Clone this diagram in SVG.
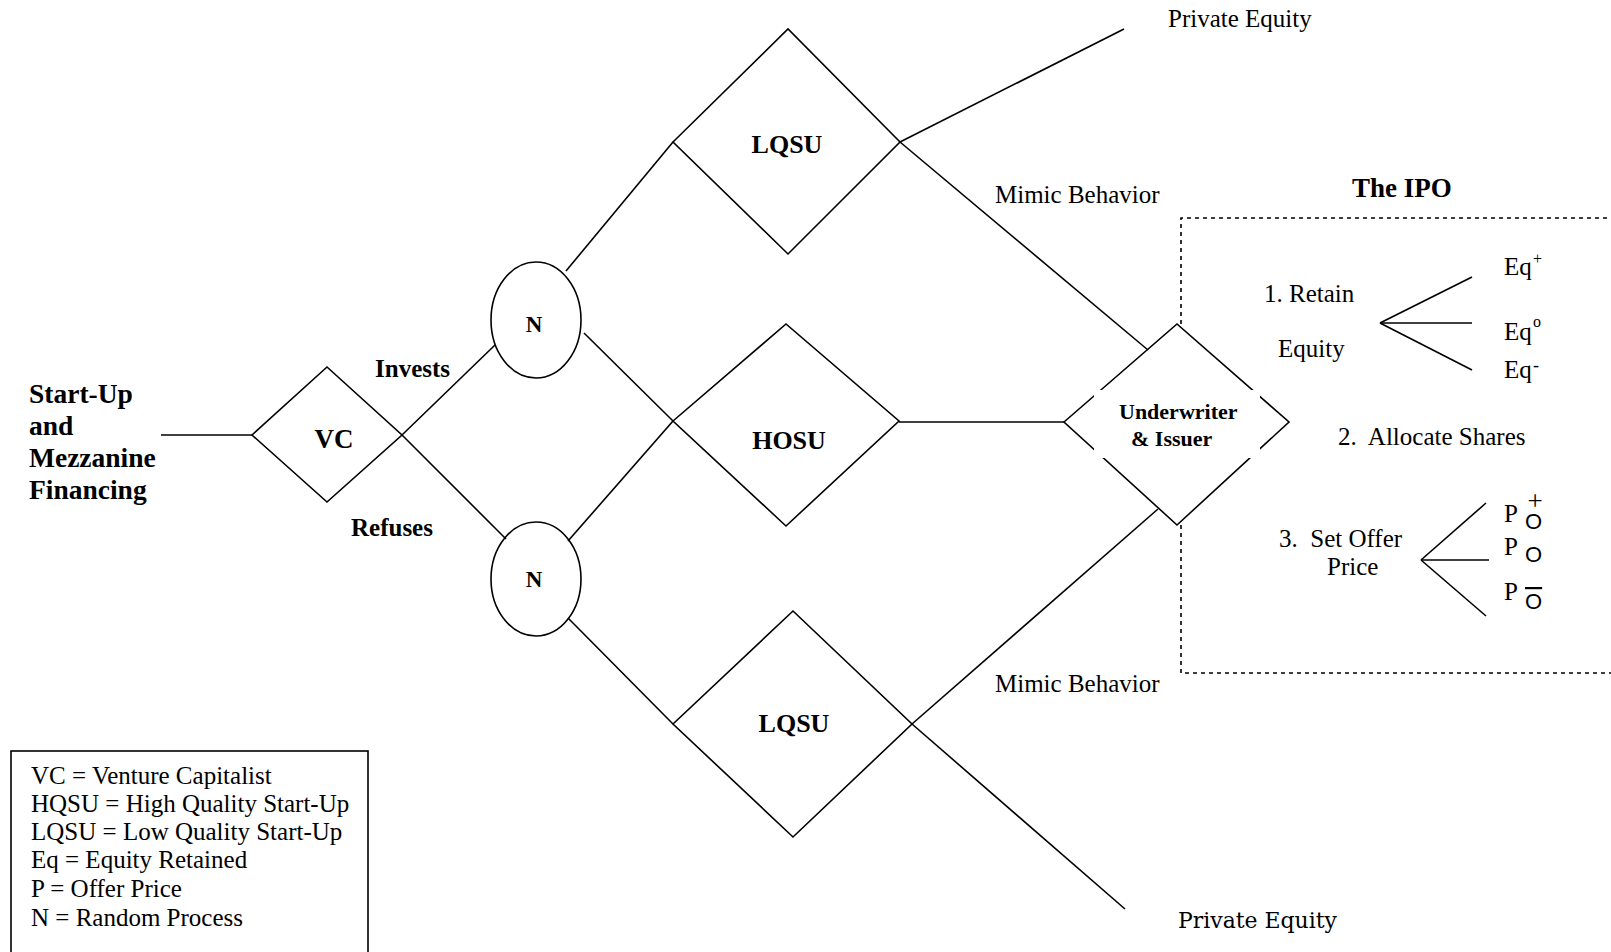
<svg xmlns="http://www.w3.org/2000/svg" width="1611" height="952" viewBox="0 0 1611 952">
<style>
.ln{stroke:#000;stroke-width:1.6;fill:none}
.nd{stroke:#000;stroke-width:1.6;fill:#fff}
.dot{stroke:#000;stroke-width:1.6;fill:none;stroke-dasharray:4 4}
.t{font-family:"Liberation Serif","Times New Roman",serif;font-size:25px;fill:#000}
.b{font-family:"Liberation Serif","Times New Roman",serif;font-weight:bold;fill:#000}
.s{font-family:"Liberation Sans",Arial,sans-serif;fill:#000}
</style>
<rect width="1611" height="952" fill="#fff"/>
<g id="connectors">
<line class="ln" x1="161" y1="435" x2="252" y2="435"/>
<line class="ln" x1="402" y1="435" x2="495" y2="345"/>
<line class="ln" x1="402" y1="435" x2="506" y2="539"/>
<line class="ln" x1="566" y1="271" x2="673" y2="142"/>
<line class="ln" x1="584" y1="333" x2="673" y2="421"/>
<line class="ln" x1="568" y1="541" x2="673" y2="421"/>
<line class="ln" x1="568" y1="618" x2="673" y2="724"/>
<line class="ln" x1="900" y1="142" x2="1124" y2="29"/>
<line class="ln" x1="900" y1="142" x2="1148" y2="350"/>
<line class="ln" x1="899" y1="422" x2="1064" y2="422"/>
<line class="ln" x1="912" y1="724" x2="1158" y2="509"/>
<line class="ln" x1="912" y1="724" x2="1125" y2="909"/>
<path class="dot" d="M1181,324 V218 H1611"/>
<path class="dot" d="M1181,525 V673 H1611"/>
<line class="ln" x1="1380" y1="323" x2="1472" y2="277"/>
<line class="ln" x1="1380" y1="323" x2="1472" y2="323"/>
<line class="ln" x1="1380" y1="323" x2="1472" y2="370"/>
<line class="ln" x1="1421" y1="560" x2="1486" y2="503"/>
<line class="ln" x1="1421" y1="560" x2="1489" y2="560"/>
<line class="ln" x1="1421" y1="560" x2="1486" y2="616"/>
</g>
<g id="start">
<text class="b" font-size="27.5" x="29" y="403">Start-Up</text>
<text class="b" font-size="27.5" x="29" y="435">and</text>
<text class="b" font-size="27.5" x="29" y="467">Mezzanine</text>
<text class="b" font-size="27.5" x="29" y="499">Financing</text>
</g>
<g id="vc">
<polygon class="nd" points="252,435 327,367 402,435 327,502"/>
<text class="b" font-size="27" x="334" y="448" text-anchor="middle">VC</text>
</g>
<g id="labels-vc">
<text class="b" font-size="25" x="375" y="377">Invests</text>
<text class="b" font-size="25" x="351" y="536">Refuses</text>
</g>
<g id="n1">
<ellipse class="ln" cx="536" cy="320" rx="45" ry="58"/>
<text class="b" font-size="23" x="534" y="332" text-anchor="middle">N</text>
</g>
<g id="n2">
<ellipse class="ln" cx="536" cy="579" rx="45" ry="57"/>
<text class="b" font-size="23" x="534" y="587" text-anchor="middle">N</text>
</g>
<g id="lqsu-top">
<polygon class="ln" points="673,142 788,29 900,142 788,254"/>
<text class="b" font-size="26" x="787" y="153" text-anchor="middle">LQSU</text>
</g>
<g id="hqsu">
<polygon class="ln" points="673,421 786,324 899,421 786,526"/>
<text class="b" font-size="26" x="789" y="449" text-anchor="middle">HOSU</text>
</g>
<g id="lqsu-bottom">
<polygon class="ln" points="673,724 793,611 912,724 793,837"/>
<text class="b" font-size="26" x="794" y="732" text-anchor="middle">LQSU</text>
</g>
<g id="underwriter">
<polygon class="ln" points="1064,422 1177,324 1289,422 1177,525"/>
<rect x="1094" y="390" width="166" height="68" fill="#fff"/>
<text class="b" font-size="22" x="1119" y="419">Underwriter</text>
<text class="b" font-size="22" x="1131" y="446">&amp; Issuer</text>
</g>
<g id="outcomes">
<text class="t" x="1168" y="27">Private Equity</text>
<text class="t" x="995" y="203">Mimic Behavior</text>
<text class="t" x="995" y="692">Mimic Behavior</text>
<text x="1178" y="928" font-family="'DejaVu Serif',serif" font-size="22" textLength="159" lengthAdjust="spacingAndGlyphs" fill="#000">Private Equity</text>
</g>
<g id="ipo">
<text class="b" font-size="27" x="1352" y="197">The IPO</text>
<text class="t" x="1264" y="302">1. Retain</text>
<text class="t" x="1278" y="357">Equity</text>
<text class="t" x="1504" y="275">Eq</text>
<text class="t" x="1533" y="264" style="font-size:16px">+</text>
<text class="t" x="1504" y="340">Eq</text>
<text class="t" x="1533" y="327" style="font-size:16px">o</text>
<text class="t" x="1504" y="378">Eq</text>
<text class="t" x="1533" y="371" style="font-size:18px">-</text>
<text class="t" x="1338" y="445" xml:space="preserve">2.  Allocate Shares</text>
<text class="t" x="1279" y="547" xml:space="preserve">3.  Set Offer</text>
<text class="t" x="1327" y="575">Price</text>
<text class="t" x="1504" y="522">P<tspan class="s" x="1525" y="529" style="font-size:22px">O</tspan><tspan x="1527.5" y="510" style="font-size:27px">+</tspan></text>
<text class="t" x="1504" y="555">P<tspan class="s" x="1525" y="562" style="font-size:22px">O</tspan></text>
<text class="t" x="1504" y="600">P<tspan class="s" x="1525" y="609" style="font-size:22px" text-decoration="overline">O</tspan></text>
</g>
<g id="legend">
<rect x="11" y="751" width="357" height="230" fill="none" stroke="#000" stroke-width="1.6"/>
<text class="t" x="31" y="784">VC = Venture Capitalist</text>
<text class="t" x="31" y="812">HQSU = High Quality Start-Up</text>
<text class="t" x="31" y="840">LQSU = Low Quality Start-Up</text>
<text class="t" x="31" y="868">Eq = Equity Retained</text>
<text class="t" x="31" y="897">P = Offer Price</text>
<text class="t" x="31" y="926">N = Random Process</text>
</g>
</svg>
